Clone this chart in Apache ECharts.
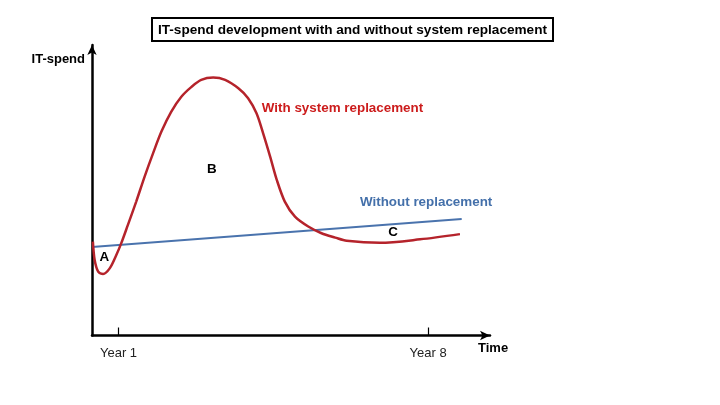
<!DOCTYPE html>
<html>
<head>
<meta charset="utf-8">
<script src="https://cdn.jsdelivr.net/npm/echarts@6/dist/echarts.min.js"></script>
<style>
  html, body { margin: 0; padding: 0; background: #fff; }
  #chart { width: 720px; height: 405px; }
</style>
</head>
<body>
<div id="chart"></div>
<script>
// time in years, spend in arbitrary units
const withReplacementX = [0.42, 0.46, 0.54, 0.65, 0.80, 0.95, 1.06, 1.21, 1.40, 1.59, 1.78, 1.97, 2.19, 2.42, 2.65, 2.87, 3.14, 3.41, 3.71, 3.93, 4.12, 4.27, 4.43, 4.58, 4.76, 4.99, 5.29, 5.59, 5.90, 6.16, 6.91, 7.82, 8.72];
const withReplacementY = [3.23, 2.60, 2.20, 2.12, 2.31, 2.77, 3.17, 3.80, 4.61, 5.47, 6.27, 7.02, 7.70, 8.22, 8.56, 8.80, 8.88, 8.80, 8.51, 8.17, 7.65, 6.96, 6.15, 5.35, 4.61, 4.09, 3.75, 3.52, 3.37, 3.26, 3.19, 3.31, 3.49];
const withoutReplacementX = [0.4, 8.76];
const withoutReplacementY = [3.05, 4.01];

const tickYears = [1, 8];
const tickLabels = ['Year 1', 'Year 8'];

// annotation letters and series captions: x, y, text
const letterX = [0.68, 3.11, 7.21];
const letterY = [2.70, 5.73, 3.56];
const letterText = ['A', 'B', 'C'];
const captionX = [4.24, 6.46];
const captionY = [7.83, 4.60];
const captionText = ['With system replacement', 'Without replacement'];

const RED = '#b5232b';
const BLUE = '#4a73ad';
const FONT = 'Liberation Sans, Arial, sans-serif';

const zip = (xs, ys) => xs.map((x, i) => [x, ys[i]]);

const chart = echarts.init(document.getElementById('chart'));

chart.setOption({
  animation: false,
  title: {
    text: 'IT-spend development with and without system replacement',
    left: 152,
    top: 18,
    padding: [5, 6, 4, 6],
    borderColor: '#000',
    borderWidth: 2,
    textStyle: { fontSize: 13.6, fontWeight: 'bold', color: '#000', fontFamily: FONT }
  },
  grid: { left: 92, right: 230, top: 45, bottom: 69.5 },
  xAxis: {
    type: 'value',
    min: 0.4,
    max: 9.4,
    name: 'Time',
    nameLocation: 'end',
    nameGap: -12,
    nameTextStyle: {
      fontSize: 13, fontWeight: 'bold', color: '#000', fontFamily: FONT,
      align: 'left', verticalAlign: 'top', padding: [6, 0, 0, 0]
    },
    axisLine: {
      lineStyle: { color: '#000', width: 2.5 },
      symbol: ['none', 'arrow'],
      symbolSize: [7, 10]
    },
    axisTick: { show: true, inside: true, length: 8, customValues: tickYears, lineStyle: { color: '#000', width: 1.2 } },
    axisLabel: {
      customValues: tickYears,
      formatter: v => tickLabels[tickYears.indexOf(v)],
      fontSize: 13, color: '#222', margin: 11, fontFamily: FONT
    },
    splitLine: { show: false }
  },
  yAxis: {
    type: 'value',
    min: 0,
    max: 10,
    name: 'IT-spend',
    nameLocation: 'end',
    nameGap: -14,
    nameTextStyle: {
      fontSize: 13, fontWeight: 'bold', color: '#000', fontFamily: FONT,
      align: 'right', verticalAlign: 'middle', padding: [0, 7, 0, 0]
    },
    axisLine: {
      show: true,
      lineStyle: { color: '#000', width: 2.5 },
      symbol: ['none', 'arrow'],
      symbolSize: [7, 10]
    },
    axisTick: { show: false },
    axisLabel: { show: false },
    splitLine: { show: false }
  },
  series: [
    {
      name: 'With system replacement',
      type: 'line',
      data: zip(withReplacementX, withReplacementY),
      smooth: 0.3,
      showSymbol: false,
      lineStyle: { color: RED, width: 2.5 },
      z: 3
    },
    {
      name: 'Without replacement',
      type: 'line',
      data: zip(withoutReplacementX, withoutReplacementY),
      showSymbol: false,
      lineStyle: { color: BLUE, width: 2 },
      z: 2
    },
    {
      // letters A, B, C
      type: 'scatter',
      data: zip(letterX, letterY).map((p, i) => ({ value: p, name: letterText[i] })),
      symbolSize: 0,
      silent: true,
      itemStyle: { opacity: 1 },
      label: {
        show: true, position: 'inside', formatter: '{b}',
        color: '#000', fontSize: 13.4, fontWeight: 'bold', fontFamily: FONT
      },
      z: 4
    },
    {
      // series captions
      type: 'scatter',
      data: zip(captionX, captionY).map((p, i) => ({
        value: p,
        name: captionText[i],
        label: { color: i === 0 ? '#cc1c1c' : '#4470aa' }
      })),
      symbolSize: 0,
      silent: true,
      itemStyle: { opacity: 1 },
      label: {
        show: true, position: [0, 0], align: 'left', verticalAlign: 'middle', formatter: '{b}',
        fontSize: 13.4, fontWeight: 'bold', fontFamily: FONT
      },
      z: 4
    }
  ]
});
</script>
</body>
</html>
